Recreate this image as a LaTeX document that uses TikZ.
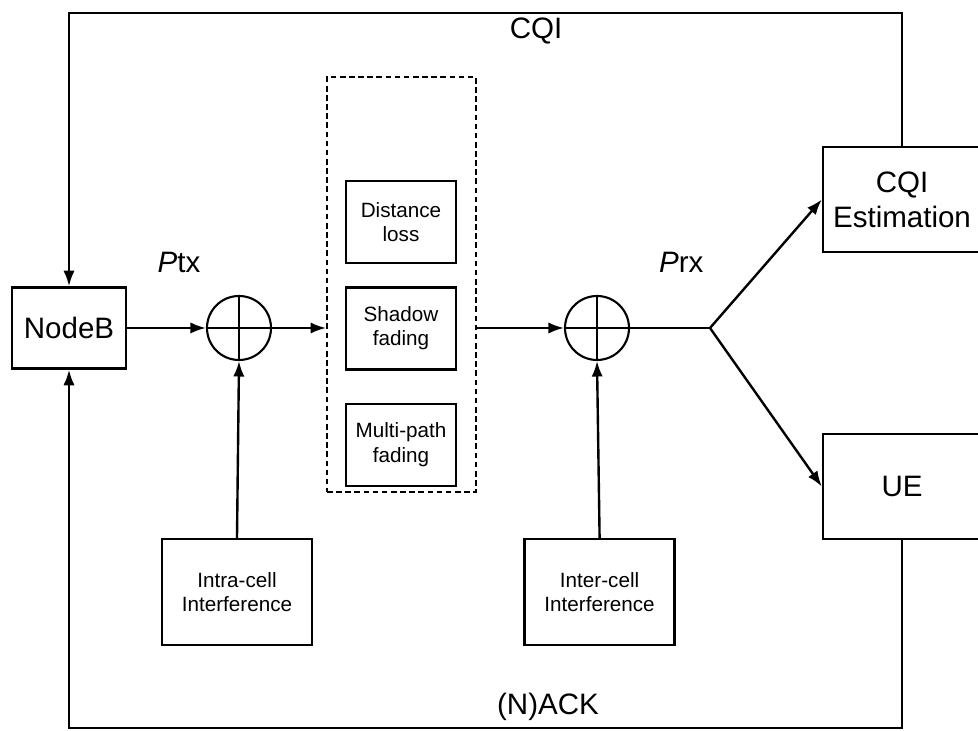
\documentclass[tikz,border=0pt]{standalone}
\usepackage{fontspec}
\setmainfont{Liberation Sans}
\usetikzlibrary{arrows.meta,positioning}

\begin{document}
\begin{tikzpicture}[
    line width=1.7pt,
    bigbox/.style={draw, inner sep=0pt, align=center, minimum width=3.95cm, minimum height=2.625cm, font=\fontsize{21}{25}\selectfont},
    fadebox/.style={draw, inner sep=0pt, align=center, minimum width=2.75cm, minimum height=2.05cm, font=\fontsize{14.7}{17.3}\selectfont},
    intbox/.style={draw, inner sep=0pt, align=center, minimum width=3.75cm, minimum height=2.65cm, font=\fontsize{14.7}{17.3}\selectfont},
    sumnode/.style={draw, circle, line width=1.5pt, minimum size=1.6cm, inner sep=0pt},
    arr/.style={-{Latex[length=11pt,width=8pt]}},
    lbl/.style={font=\fontsize{21}{25}\selectfont}
]
    \useasboundingbox (0,0) rectangle (24.45,18.275);
    % Transmitter
    \node[draw, inner sep=0pt, minimum width=2.85cm, minimum height=2.03cm, font=\fontsize{21}{25}\selectfont] (nodeb) at (1.725,10.075) {NodeB};
    % Adders
    \node[sumnode] (s1) at (5.975,10.075) {};
    \node[sumnode] (s2) at (14.925,10.075) {};
    \foreach \s in {s1,s2}{
        \draw[line width=1.5pt] (\s.north) -- (\s.south);
        \draw[line width=1.5pt] (\s.west) -- (\s.east);
    }
    % Channel
    \node[draw, dashed, dash pattern=on 4pt off 2.5pt, line width=1.3pt, minimum width=3.725cm, minimum height=10.375cm] (chan) at (10.0375,11.1625) {};
    \foreach \nm/\y/\txt in {dist/12.725/{Distance\\loss}, shad/10.066/{Shadow\\fading}, mult/7.155/{Multi-path\\fading}}{
        \node[fadebox] (\nm) at (10.025,\y) {\txt};
    }
    % Interference
    \node[intbox] (intra) at (5.925,3.475) {Intra-cell\\Interference};
    \node[intbox] (inter) at (14.99,3.475) {Inter-cell\\Interference};
    % Receivers
    \node[bigbox] (cqi) at (22.55,13.2875) {CQI\\Estimation};
    \node[bigbox] (ue) at (22.55,6.1125) {UE};
    \coordinate (br) at (17.75,10.075);
    \coordinate (topy) at (0,17.95);
    \coordinate (boty) at (0,0.075);
    % Forward path
    \draw[arr] (nodeb.east) -- (s1.west);
    \draw[arr] (s1.east) -- (s1.east -| chan.west);
    \draw[arr] (s2.west -| chan.east) -- (s2.west);
    \draw (s2.east) -- (br);
    \draw[arr] (br) -- (cqi.west);
    \draw[arr] (br) -- (ue.west);
    \draw[arr] (intra.north) -- (s1.south);
    \draw[arr] (inter.north) -- (s2.south);
    % Feedback
    \draw[arr] (cqi.north) -- (cqi.north |- topy) -- (nodeb.north |- topy) -- (nodeb.north);
    \draw[arr] (ue.south) -- (ue.south |- boty) -- (nodeb.south |- boty) -- (nodeb.south);
    % Labels
    \node[lbl] (ptx) at (4.475,11.725) {\textit{P}tx};
    \node[lbl] (prx) at (17.03,11.725) {\textit{P}rx};
    \node[lbl] (cqilbl) at (13.4,17.5) {CQI};
    \node[lbl] (ack) at (13.7,0.6) {(N)ACK};
\end{tikzpicture}
\end{document}
